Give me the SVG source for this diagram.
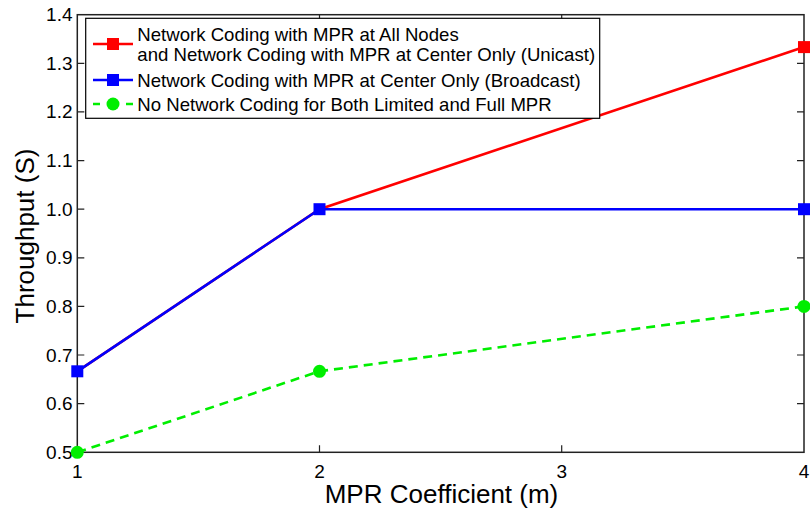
<svg xmlns="http://www.w3.org/2000/svg" width="810" height="510" viewBox="0 0 810 510">
<style>
text{font-family:"Liberation Sans",Arial,sans-serif;fill:#000}
.tk{font-size:19px}
.ty{text-anchor:end}
.tx{text-anchor:middle}
.lab{font-size:26px;text-anchor:middle}
.leg{font-size:18.6px}
.tick{stroke:#222;stroke-width:1.2}
.red{stroke:#ff0000;stroke-width:2.6;fill:none}
.blue{stroke:#0000ff;stroke-width:2.6;fill:none}
.green{stroke:#00ee00;stroke-width:2.6;fill:none;stroke-dasharray:9,6}
</style>
<defs>
<rect id="sqR" x="-6" y="-6" width="12" height="12" fill="#ff0000"/>
<rect id="sqB" x="-6" y="-6" width="12" height="12" fill="#0000ff"/>
<circle id="ciG" r="6.5" fill="#00ee00"/>
</defs>
<rect width="810" height="510" fill="#fff"/>
<g id="axes">
<g class="tick">
<path d="M77.3,63.3h7M77.3,111.9h7M77.3,160.6h7M77.3,209.2h7M77.3,257.8h7M77.3,306.4h7M77.3,355h7M77.3,403.7h7"/>
<path d="M804,63.3h-7M804,111.9h-7M804,160.6h-7M804,209.2h-7M804,257.8h-7M804,306.4h-7M804,355h-7M804,403.7h-7"/>
<path d="M319.5,452.3v-7M561.7,452.3v-7M319.5,14.7v7M561.7,14.7v7"/>
</g>
<rect x="77.3" y="14.7" width="726.7" height="437.6" fill="none" stroke="#222" stroke-width="1.5"/>
<g class="tk ty">
<text x="72.5" y="21.2">1.4</text>
<text x="72.5" y="69.8">1.3</text>
<text x="72.5" y="118.4">1.2</text>
<text x="72.5" y="167.1">1.1</text>
<text x="72.5" y="215.7">1.0</text>
<text x="72.5" y="264.3">0.9</text>
<text x="72.5" y="312.9">0.8</text>
<text x="72.5" y="361.5">0.7</text>
<text x="72.5" y="410.2">0.6</text>
<text x="72.5" y="458.8">0.5</text>
</g>
<g class="tk tx">
<text x="77.3" y="478">1</text>
<text x="319.5" y="478">2</text>
<text x="561.7" y="478">3</text>
<text x="804" y="478">4</text>
</g>
<text class="lab" x="441.5" y="502.5">MPR Coefficient (m)</text>
<text class="lab" transform="translate(33.5,236) rotate(-90)">Throughput (S)</text>
</g>
<g id="connectors">
<polyline class="red" points="77.3,371.3 319.5,209.2 804,47.1"/>
<polyline class="blue" points="77.3,371.3 319.5,209.2 804,209.2"/>
<polyline class="green" points="77.3,452.3 319.5,371.3 804,306.4"/>
</g>
<g id="series-red">
<use href="#sqR" x="804" y="47.1"/>
</g>
<g id="series-blue">
<use href="#sqB" x="77.3" y="371.3"/>
<use href="#sqB" x="319.5" y="209.2"/>
<use href="#sqB" x="804" y="209.2"/>
</g>
<g id="series-green">
<use href="#ciG" x="77.3" y="452.3"/>
<use href="#ciG" x="319.5" y="371.3"/>
<use href="#ciG" x="804" y="306.4"/>
</g>
<g id="legend">
<rect x="85.7" y="18.3" width="514" height="100" fill="#fff" stroke="#000" stroke-width="1.2"/>
<line class="red" x1="93" y1="44" x2="133" y2="44"/>
<use href="#sqR" x="113" y="44"/>
<line class="blue" x1="93" y1="80" x2="133" y2="80"/>
<use href="#sqB" x="113" y="80"/>
<line class="green" x1="93" y1="104" x2="133" y2="104" style="stroke-dasharray:7,26"/>
<use href="#ciG" x="113" y="104"/>
<g class="leg">
<text x="137.3" y="40.7">Network Coding with MPR at All Nodes</text>
<text x="137.3" y="61">and Network Coding with MPR at Center Only (Unicast)</text>
<text x="137.3" y="86.7">Network Coding with MPR at Center Only (Broadcast)</text>
<text x="137.3" y="110.7">No Network Coding for Both Limited and Full MPR</text>
</g>
</g>
</svg>
